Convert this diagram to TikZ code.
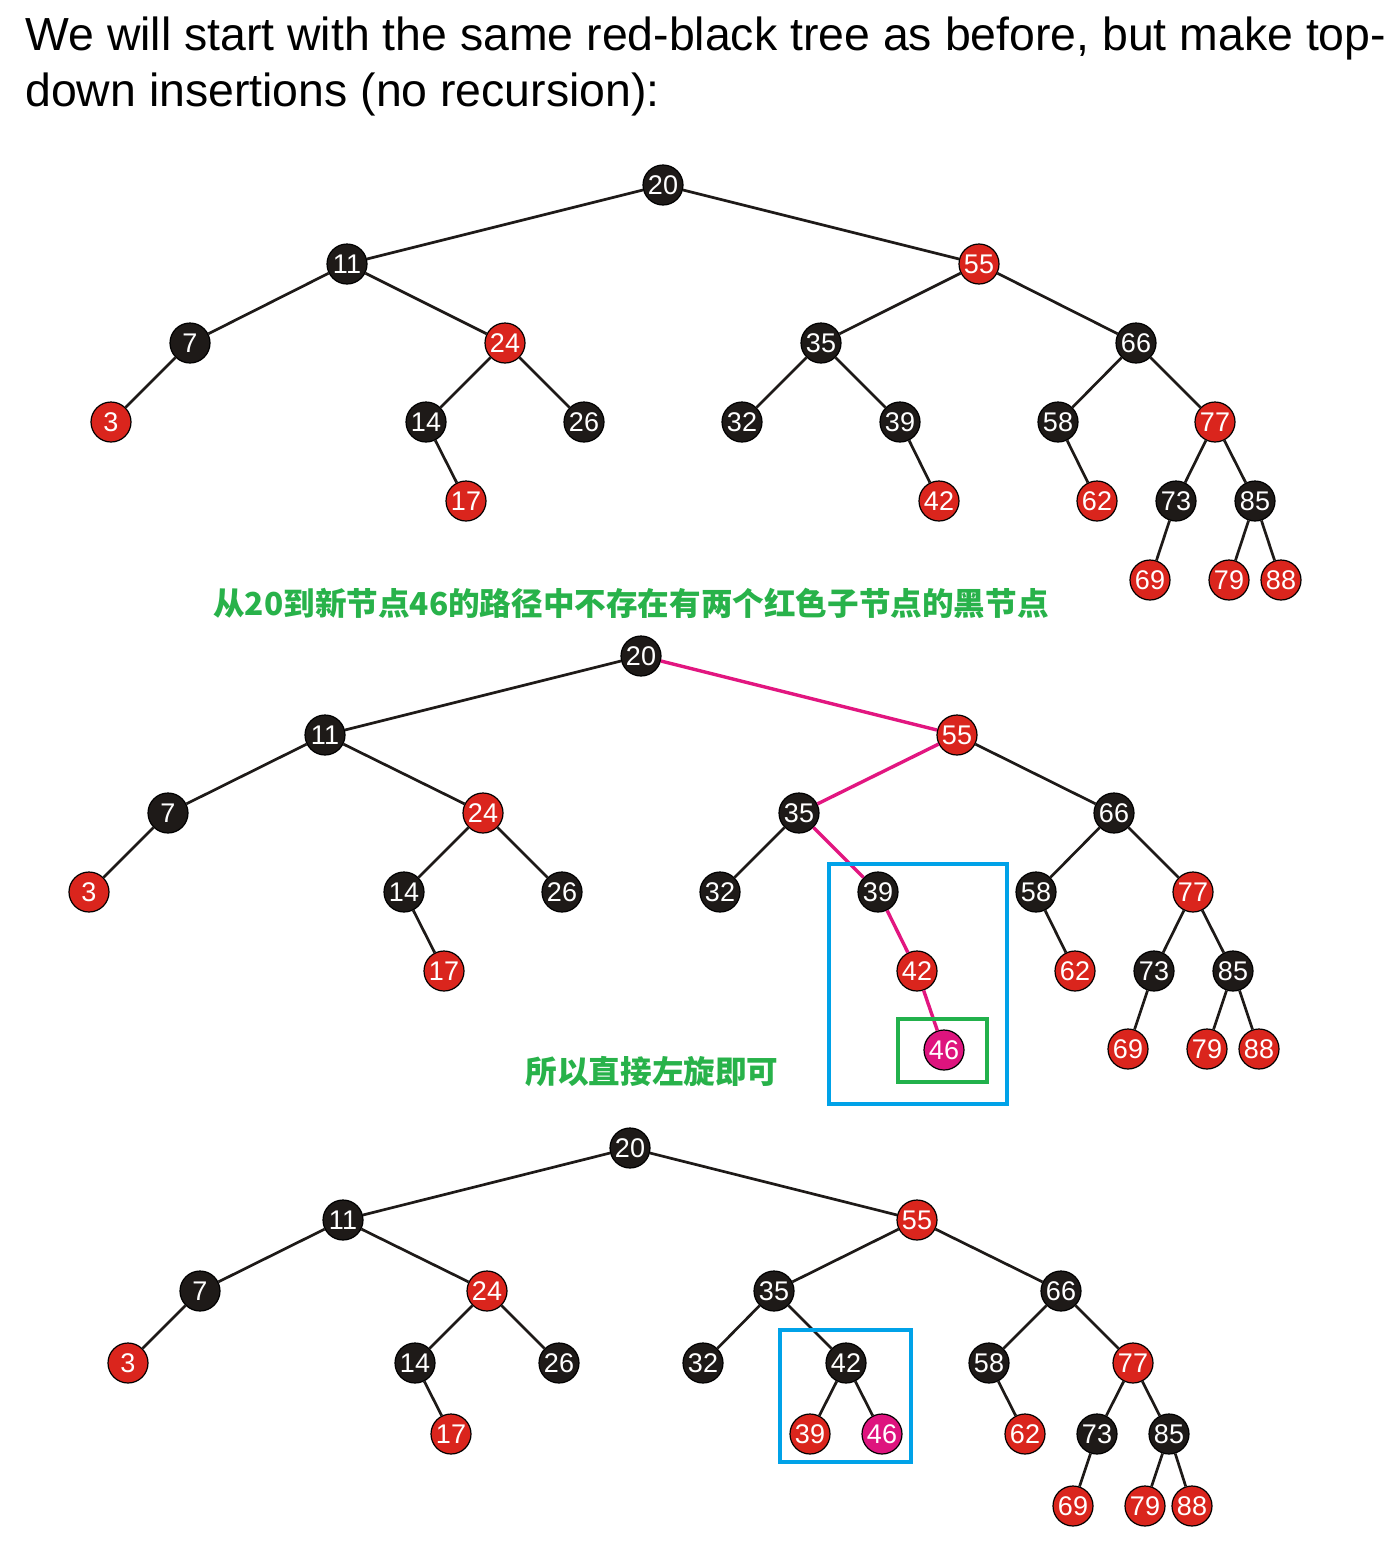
\documentclass[tikz,border=0pt]{standalone}
\usepackage{fontspec}
\setmainfont{Liberation Sans}
\newfontfamily\cjk{Noto Sans CJK SC}
\usetikzlibrary{shapes,positioning,calc}
\definecolor{nodered}{RGB}{218,37,29}
\definecolor{nodeblack}{RGB}{30,26,24}
\definecolor{nodepink}{RGB}{222,20,126}
\definecolor{edgepink}{RGB}{226,22,128}
\definecolor{boxblue}{RGB}{0,162,232}
\definecolor{boxgreen}{RGB}{34,177,76}
\definecolor{textgreen}{RGB}{40,178,74}
\tikzset{
    rbblack/.style={
        circle,
        draw=black,
        fill=nodeblack,
        text=white,
        line width=0.6pt,
        inner sep=0pt,
        minimum size=20pt,
        font=\fontsize{13.5}{13.5}\selectfont,
    },
    rbred/.style={
        rbblack,
        fill=nodered,
    },
    rbnew/.style={
        rbblack,
        fill=nodepink,
    },
    rbsmall/.style={
        minimum size=18pt,
        font=\fontsize{12.5}{12.5}\selectfont,
    },
    hot/.style={
        draw=edgepink,
        line width=1.7pt,
    },
    mark box/.style={
        line width=2pt,
    },
    note/.style={
        text=textgreen,
        font=\cjk\bfseries\fontsize{15.8}{15.8}\selectfont,
    },
    every edge/.style={
        draw,
        -,
        line width=1.35pt,
        color=nodeblack,
    },
}
\begin{document}
\begin{tikzpicture}[x=0.5pt,y=-0.5pt]
    \useasboundingbox (0,0) rectangle (1395,1542);
    \fill[white] (0,0) rectangle (1395,1542);

    % heading
    \node [anchor=base west, inner sep=0pt, font=\fontsize{23.2}{23.2}\selectfont] (L1) at (25,50)
        {We will start with the same red-black tree as before, but make top-};
    \node [anchor=base west, inner sep=0pt, font=\fontsize{23.2}{23.2}\selectfont] (L2) at (25,106)
        {down insertions (no recursion):};

    % first tree
    \node [rbblack] (A20) at (663,185) {20};
    \node [rbblack] (A11) at (347,264) {11};
    \node [rbred]   (A55) at (979,264) {55};
    \node [rbblack] (A7)  at (190,343) {7};
    \node [rbred]   (A24) at (505,343) {24};
    \node [rbblack] (A35) at (821,343) {35};
    \node [rbblack] (A66) at (1136,343) {66};
    \node [rbred]   (A3)  at (111,422) {3};
    \node [rbblack] (A14) at (426,422) {14};
    \node [rbblack] (A26) at (584,422) {26};
    \node [rbblack] (A32) at (742,422) {32};
    \node [rbblack] (A39) at (900,422) {39};
    \node [rbblack] (A58) at (1058,422) {58};
    \node [rbred]   (A77) at (1215,422) {77};
    \node [rbred]   (A17) at (466,501) {17};
    \node [rbred]   (A42) at (939,501) {42};
    \node [rbred]   (A62) at (1097,501) {62};
    \node [rbblack] (A73) at (1176,501) {73};
    \node [rbblack] (A85) at (1255,501) {85};
    \node [rbred]   (A69) at (1150,580) {69};
    \node [rbred]   (A79) at (1229,580) {79};
    \node [rbred]   (A88) at (1281,580) {88};

    \draw (A20) edge (A11) edge (A55);
    \draw (A11) edge (A7) edge (A24);
    \draw (A55) edge (A35) edge (A66);
    \draw (A7) edge (A3);
    \draw (A24) edge (A14) edge (A26);
    \draw (A35) edge (A32) edge (A39);
    \draw (A66) edge (A58) edge (A77);
    \draw (A14) edge (A17);
    \draw (A39) edge (A42);
    \draw (A58) edge (A62);
    \draw (A77) edge (A73) edge (A85);
    \draw (A73) edge (A69);
    \draw (A85) edge (A79) edge (A88);

    \node [note] (N1) at (631,603) {从20到新节点46的路径中不存在有两个红色子节点的黑节点};

    % second tree
    \node [rbblack] (B20) at (641,656) {20};
    \node [rbblack] (B11) at (325,735) {11};
    \node [rbred]   (B55) at (957,735) {55};
    \node [rbblack] (B7)  at (168,813) {7};
    \node [rbred]   (B24) at (483,813) {24};
    \node [rbblack] (B35) at (799,813) {35};
    \node [rbblack] (B66) at (1114,813) {66};
    \node [rbred]   (B3)  at (89,892) {3};
    \node [rbblack] (B14) at (404,892) {14};
    \node [rbblack] (B26) at (562,892) {26};
    \node [rbblack] (B32) at (720,892) {32};
    \node [rbblack] (B39) at (878,892) {39};
    \node [rbblack] (B58) at (1036,892) {58};
    \node [rbred]   (B77) at (1193,892) {77};
    \node [rbred]   (B17) at (444,971) {17};
    \node [rbred]   (B42) at (917,971) {42};
    \node [rbred]   (B62) at (1075,971) {62};
    \node [rbblack] (B73) at (1154,971) {73};
    \node [rbblack] (B85) at (1233,971) {85};
    \node [rbnew]   (B46) at (944,1050) {46};
    \node [rbred]   (B69) at (1128,1049) {69};
    \node [rbred]   (B79) at (1207,1049) {79};
    \node [rbred]   (B88) at (1259,1049) {88};

    \draw (B20) edge (B11) edge[hot] (B55);
    \draw (B11) edge (B7) edge (B24);
    \draw (B55) edge[hot] (B35) edge (B66);
    \draw (B7) edge (B3);
    \draw (B24) edge (B14) edge (B26);
    \draw (B35) edge (B32) edge[hot] (B39);
    \draw (B66) edge (B58) edge (B77);
    \draw (B14) edge (B17);
    \draw (B39) edge[hot] (B42);
    \draw (B42) edge[hot] (B46);
    \draw (B58) edge (B62);
    \draw (B77) edge (B73) edge (B85);
    \draw (B73) edge (B69);
    \draw (B85) edge (B79) edge (B88);

    \draw [mark box, boxblue] (829,864) rectangle (1007,1104);
    \draw [mark box, boxgreen] (898,1019) rectangle (987,1082);

    \node [note] (N2) at (652,1072) {所以直接左旋即可};

    % third tree, after the rotation
    \begin{scope}[every node/.append style={rbsmall}]
    \node [rbblack] (C20) at (630,1148) {20};
    \node [rbblack] (C11) at (343,1220) {11};
    \node [rbred]   (C55) at (917,1220) {55};
    \node [rbblack] (C7)  at (200,1291) {7};
    \node [rbred]   (C24) at (487,1291) {24};
    \node [rbblack] (C35) at (774,1291) {35};
    \node [rbblack] (C66) at (1061,1291) {66};
    \node [rbred]   (C3)  at (128,1363) {3};
    \node [rbblack] (C14) at (415,1363) {14};
    \node [rbblack] (C26) at (559,1363) {26};
    \node [rbblack] (C32) at (703,1363) {32};
    \node [rbblack] (C42) at (846,1363) {42};
    \node [rbblack] (C58) at (989,1363) {58};
    \node [rbred]   (C77) at (1133,1363) {77};
    \node [rbred]   (C17) at (451,1434) {17};
    \node [rbred]   (C39) at (810,1434) {39};
    \node [rbnew]   (C46) at (882,1434) {46};
    \node [rbred]   (C62) at (1025,1434) {62};
    \node [rbblack] (C73) at (1097,1434) {73};
    \node [rbblack] (C85) at (1169,1434) {85};
    \node [rbred]   (C69) at (1073,1506) {69};
    \node [rbred]   (C79) at (1145,1506) {79};
    \node [rbred]   (C88) at (1192,1506) {88};
    \end{scope}

    \draw (C20) edge (C11) edge (C55);
    \draw (C11) edge (C7) edge (C24);
    \draw (C55) edge (C35) edge (C66);
    \draw (C7) edge (C3);
    \draw (C24) edge (C14) edge (C26);
    \draw (C35) edge (C32) edge (C42);
    \draw (C66) edge (C58) edge (C77);
    \draw (C14) edge (C17);
    \draw (C42) edge (C39) edge (C46);
    \draw (C58) edge (C62);
    \draw (C77) edge (C73) edge (C85);
    \draw (C73) edge (C69);
    \draw (C85) edge (C79) edge (C88);

    \draw [mark box, boxblue] (780,1330) rectangle (911,1462);
\end{tikzpicture}
\end{document}
